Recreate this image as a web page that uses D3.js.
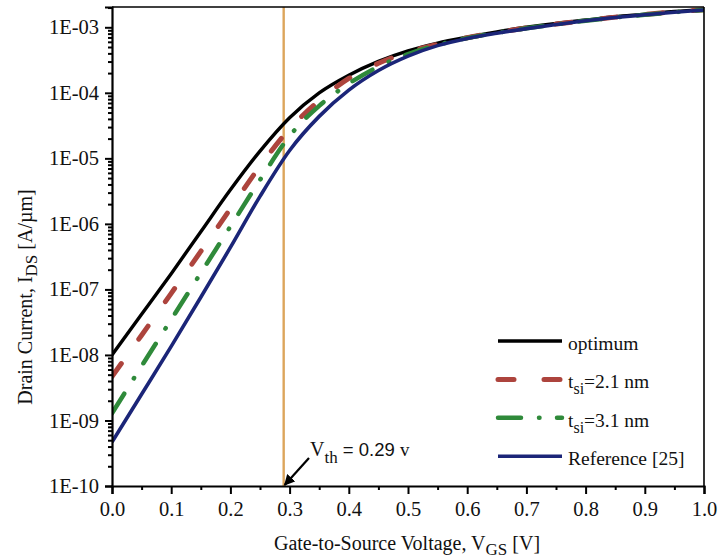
<!DOCTYPE html>
<html>
<head>
<meta charset="utf-8">
<script src="https://cdn.jsdelivr.net/npm/d3@7/dist/d3.min.js"></script>
<style>
  html, body { margin: 0; padding: 0; background: #fff; }
  svg { display: block; }
  .serif { font-family: "Liberation Serif", "Times New Roman", serif; }
</style>
</head>
<body>
<svg id="chart" width="718" height="560"></svg>
<script>
// Gate voltage sweep (V)
const vgs = [0.00, 0.05, 0.10, 0.15, 0.20, 0.25, 0.30, 0.35, 0.40, 0.45, 0.50,
             0.55, 0.60, 0.65, 0.70, 0.75, 0.80, 0.85, 0.90, 0.95, 1.00];

// Drain current (A/µm) for each device
const idsOptimum = [1.00e-8, 4.17e-8, 1.74e-7, 7.59e-7, 3.31e-6, 1.29e-5, 4.17e-5, 1.00e-4, 1.86e-4, 3.02e-4, 4.37e-4,
                    5.75e-4, 7.08e-4, 8.51e-4, 1.00e-3, 1.15e-3, 1.29e-3, 1.45e-3, 1.58e-3, 1.74e-3, 1.86e-3];
const idsTsi21   = [4.68e-9, 2.00e-8, 8.71e-8, 3.80e-7, 1.70e-6, 7.59e-6, 2.82e-5, 7.59e-5, 1.66e-4, 2.82e-4, 4.17e-4,
                    5.50e-4, 6.92e-4, 8.32e-4, 9.77e-4, 1.12e-3, 1.27e-3, 1.43e-3, 1.57e-3, 1.72e-3, 1.85e-3];
const idsTsi31   = [1.29e-9, 6.76e-9, 3.47e-8, 1.78e-7, 9.12e-7, 4.68e-6, 2.19e-5, 6.31e-5, 1.38e-4, 2.51e-4, 3.89e-4,
                    5.37e-4, 6.84e-4, 8.22e-4, 9.66e-4, 1.11e-3, 1.26e-3, 1.41e-3, 1.55e-3, 1.70e-3, 1.84e-3];
const idsRef25   = [4.68e-10, 2.51e-9, 1.35e-8, 7.59e-8, 4.37e-7, 2.63e-6, 1.32e-5, 4.37e-5, 1.10e-4, 2.19e-4, 3.63e-4,
                    5.25e-4, 6.76e-4, 8.13e-4, 9.55e-4, 1.10e-3, 1.26e-3, 1.41e-3, 1.55e-3, 1.70e-3, 1.84e-3];

const xTicks = [0.0, 0.1, 0.2, 0.3, 0.4, 0.5, 0.6, 0.7, 0.8, 0.9, 1.0];
const yTicks = [1e-10, 1e-9, 1e-8, 1e-7, 1e-6, 1e-5, 1e-4, 1e-3];
const vth = 0.29;

const series = [
  { name: "optimum", main: "optimum",        sub: "",   tail: "",        values: idsOptimum, color: "#000000", width: 3.4, dash: null },
  { name: "tsi21",   main: "t",              sub: "si", tail: "=2.1 nm", values: idsTsi21,   color: "#ad443d", width: 5,   dash: "16,30" },
  { name: "tsi31",   main: "t",              sub: "si", tail: "=3.1 nm", values: idsTsi31,   color: "#2f8a3a", width: 4.5, dash: "23,18,0.5,17.5" },
  { name: "ref25",   main: "Reference [25]", sub: "",   tail: "",        values: idsRef25,   color: "#1b2578", width: 3.6, dash: null }
];

const svg = d3.select("#chart");
const L = 112, R = 704, T = 7, B = 486;

const x = d3.scaleLinear().domain([0, 1]).range([L, R]);
const y = d3.scaleLog().domain([1e-10, 2.04e-3]).range([B, T]);

// Clip so curves stay inside the frame
svg.append("defs").append("clipPath").attr("id", "plotClip")
  .append("rect").attr("x", L).attr("y", T).attr("width", R - L).attr("height", B - T);

// Threshold voltage marker
svg.append("line")
  .attr("x1", x(vth)).attr("x2", x(vth)).attr("y1", T).attr("y2", B)
  .attr("stroke", "#dca55c").attr("stroke-width", 2.4);

// Curves
const line = d3.line()
  .x((d, i) => x(vgs[i]))
  .y(d => y(d))
  .curve(d3.curveMonotoneX);

const curves = svg.append("g").attr("clip-path", "url(#plotClip)");
series.forEach(s => {
  curves.append("path")
    .attr("d", line(s.values))
    .attr("fill", "none")
    .attr("stroke", s.color)
    .attr("stroke-width", s.width)
    .attr("stroke-linecap", s.dash ? "round" : "butt")
    .attr("stroke-linejoin", "round")
    .attr("stroke-dasharray", s.dash);
});

// Frame: top and right
svg.append("line").attr("x1", L).attr("x2", R).attr("y1", T).attr("y2", T)
  .attr("stroke", "#000").attr("stroke-width", 1.6);
svg.append("line").attr("x1", R).attr("x2", R).attr("y1", T).attr("y2", B)
  .attr("stroke", "#000").attr("stroke-width", 1.6);

// X axis
const xMinor = d3.range(0.05, 1, 0.1);
const gxMinor = svg.append("g").attr("transform", `translate(0,${B})`)
  .call(d3.axisBottom(x).tickValues(xMinor).tickSize(4).tickFormat(""));
const gx = svg.append("g").attr("transform", `translate(0,${B})`)
  .call(d3.axisBottom(x).tickValues(xTicks).tickSize(8).tickPadding(7).tickFormat(d3.format(".1f")));

// Y axis
const yMinor = [];
yTicks.forEach(t => { for (let k = 2; k <= 9; k++) { const v = t * k; if (v <= 2.04e-3) yMinor.push(v); } });
const gyMinor = svg.append("g").attr("transform", `translate(${L},0)`)
  .call(d3.axisLeft(y).tickValues(yMinor).tickSize(4).tickFormat(""));
const gy = svg.append("g").attr("transform", `translate(${L},0)`)
  .call(d3.axisLeft(y).tickValues(yTicks).tickSize(7).tickPadding(6)
    .tickFormat(d => "1E-" + String(Math.round(-Math.log10(d))).padStart(2, "0")));

[gx, gy, gxMinor, gyMinor].forEach(g => {
  g.select(".domain").attr("stroke", "#000").attr("stroke-width", 2.2);
  g.selectAll(".tick line").attr("stroke", "#000").attr("stroke-width", 2);
  g.selectAll(".tick text")
    .attr("class", "serif").attr("fill", "#111")
    .style("font-size", "20.5px");
});
gxMinor.select(".domain").remove();
gyMinor.select(".domain").remove();

// Axis titles
const xt = svg.append("text").attr("class", "serif")
  .attr("x", 407).attr("y", 550).attr("text-anchor", "middle")
  .style("font-size", "20px").attr("fill", "#111");
xt.append("tspan").text("Gate-to-Source Voltage, V");
xt.append("tspan").attr("dy", 5).style("font-size", "17px").text("GS");
xt.append("tspan").attr("dy", -5).text(" [V]");

const yt = svg.append("text").attr("class", "serif")
  .attr("transform", "translate(32,297) rotate(-90)").attr("text-anchor", "middle")
  .style("font-size", "20px").attr("fill", "#111");
yt.append("tspan").text("Drain Current, I");
yt.append("tspan").attr("dy", 5).style("font-size", "17px").text("DS");
yt.append("tspan").attr("dy", -5).text(" [A/µm]");

// Threshold annotation
svg.append("defs").append("marker")
  .attr("id", "arrowHead").attr("viewBox", "0 0 10 10")
  .attr("refX", 9).attr("refY", 5)
  .attr("markerWidth", 5).attr("markerHeight", 5)
  .attr("markerUnits", "strokeWidth")
  .attr("orient", "auto")
  .append("path").attr("d", "M0,0 L10,5 L0,10 Z").attr("fill", "#000");
svg.append("line")
  .attr("x1", 309).attr("y1", 458).attr("x2", x(vth) + 1).attr("y2", B - 1)
  .attr("stroke", "#000").attr("stroke-width", 2.2)
  .attr("marker-end", "url(#arrowHead)");

const vt = svg.append("text").attr("x", 310).attr("y", 456).attr("fill", "#111");
vt.append("tspan").attr("class", "serif").style("font-size", "20px").text("V");
vt.append("tspan").attr("class", "serif").attr("dy", 7).style("font-size", "17px").text("th");
vt.append("tspan").attr("dy", -7).style("font-family", "'Liberation Sans', Arial, sans-serif")
  .style("font-size", "18.5px").text(" = " + vth.toFixed(2) + " ");
vt.append("tspan").attr("class", "serif").style("font-size", "19px").text("v");

// Legend
const legend = svg.append("g");
series.forEach((s, i) => {
  const ly = 341 + i * 38.4;
  legend.append("line")
    .attr("x1", 498).attr("x2", 562).attr("y1", ly).attr("y2", ly)
    .attr("stroke", s.color).attr("stroke-width", s.width)
    .attr("stroke-linecap", s.dash ? "round" : "butt")
    .attr("stroke-dasharray", s.dash);
  const t = legend.append("text").attr("class", "serif")
    .attr("x", 568).attr("y", ly + 9).style("font-size", "19.5px").attr("fill", "#111");
  t.append("tspan").text(s.main);
  if (s.sub) {
    t.append("tspan").attr("dy", 6).style("font-size", "16px").text(s.sub);
    t.append("tspan").attr("dy", -6).text(s.tail);
  }
});
</script>
</body>
</html>
